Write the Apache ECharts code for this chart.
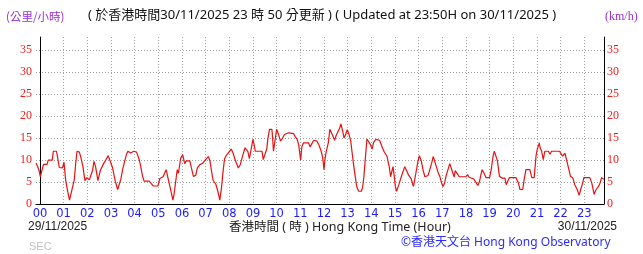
<!DOCTYPE html>
<html><head><meta charset="utf-8">
<script src="https://cdn.jsdelivr.net/npm/echarts@6/dist/echarts.min.js"></script>
<style>html,body{margin:0;padding:0;background:#fff;overflow:hidden}#c{width:643px;height:254px}</style>
</head><body><div id="c"></div>
<script>
// ---- data (minutes from 00:00 on 30/11; axis runs 23:50 29/11 -> 23:50 30/11) ----
const hourLabels = ['00','01','02','03','04','05','06','07','08','09','10','11','12','13','14','15','16','17','18','19','20','21','22','23'];
const yTickLabels = ['0','5','10','15','20','25','30','35'];
const minutes = [
-10,-6,-2,1,5,9,18,21,31,34,42,45,49,57,61,65,70,75,79,83,87,91,94,100,104,109,114,119,125,129,133,137,141,147,153,162,167,173,178,184,191,197,201,205,210,215,219,223,230,238,245,251,255,260,264,277,282,287,299,304,312,320,325,330,334,337,340,344,348,351,357,362,367,371,380,384,389,395,399,406,413,420,427,431,435,439,446,451,456,460,464,468,472,477,485,490,495,503,508,514,520,527,531,536,540,543,546,563,566,571,575,578,582,588,590,592,596,600,605,610,615,620,630,643,647,652,656,658,661,664,668,681,685,690,694,702,707,713,717,720,723,726,731,735,740,743,747,751,756,760,763,767,771,775,779,783,788,791,795,799,803,808,815,818,821,825,829,833,838,842,846,852,856,861,866,872,880,886,889,893,895,898,901,904,907,910,914,919,925,928,931,935,941,945,947,950,953,958,962,967,971,976,984,989,993,997,1000,1004,1009,1014,1018,1022,1026,1030,1035,1039,1043,1047,1050,1053,1058,1063,1080,1084,1088,1100,1106,1110,1114,1118,1121,1126,1131,1140,1144,1149,1152,1156,1160,1165,1171,1179,1182,1190,1207,1213,1217,1224,1227,1232,1242,1247,1253,1258,1261,1266,1268,1272,1276,1280,1289,1293,1297,1310,1317,1325,1331,1335,1340,1345,1351,1356,1362,1367,1371,1376,1379,1394,1399,1405,1410,1416,1420,1424,1430
];
const speeds = [
9.3,8.6,7.5,6.2,6.5,9,9,10,10,12,12,10.5,8.3,8.2,9.5,5.6,3,0.9,2.4,2,5.5,9.5,12,11.8,10.5,8.5,5.3,6,5.5,5.4,7.5,9.7,8.5,5.3,7.6,9.3,10,11,10.6,8.3,5.2,3.3,3.5,5.6,8,9.8,11.2,12,11.6,12,11.8,10.3,8.8,6.4,5.2,5.2,5.2,4.1,4.1,5.8,6.2,7.8,5.8,3.8,2.2,0.9,2.2,5,7.8,7,10.5,11.2,9.2,9.8,9.8,8.2,6.3,6.5,8.2,9,9.3,10.1,10.8,9.8,7.5,5.4,4.5,2.9,0.9,3.5,7.2,10.3,11,11.2,12.5,11.5,10,8.2,9,11,12.8,12,10.3,10.5,14.7,13.5,12,12,10.1,10.5,12.5,15,17,17,15,12,14.5,17,15.8,14.3,15,15.8,16.2,16,15.4,14.7,13.5,12,10,13,13.9,13.9,13,13.3,14.5,14.3,13.5,12,10.5,7.8,10.5,12,13.9,17,17,15.4,14.5,15.6,16,17.3,18.2,16.8,15,15.8,16.9,16,14.3,12,9,6.5,4,2.9,2.9,3.8,6,10.5,14.8,14.5,13.5,12.5,14,14.7,15,14.5,13.3,12,10.8,8.2,6.2,6.5,8.5,6.5,4,2.9,3.2,4.4,5.6,7,8.5,8.3,7.3,6.5,5.8,4.5,4,5.5,7,9.6,11,9.7,7.8,6.2,6.5,8,9.3,10.8,10.5,8.8,7.3,6.2,4.8,4,4.8,6.5,8,9.2,8.8,7,6.1,7.6,7.6,6.2,6.2,6.7,6.1,5.7,4.8,4.2,5,6.7,7.8,7,6,6,7.8,11,12,10.9,9.7,6.3,5.9,5.9,4.4,6,6,4.8,3.3,3.3,5.2,7.8,7.8,6,6,11.2,12.5,13.9,12.8,12,10.1,12,12,11.3,12,12,12,10.9,11.6,10.1,8.2,6.3,5.9,4.4,3.3,2,3.3,4.8,6,6,4.8,2.2,3.3,4,4.8,6,5.6
];

// decoration slots every 10 minutes across the axis
const slots = [];
for (let m = -10; m <= 1430; m += 10) slots.push(String(m));
const isHour = (i, v) => { const m = +v; return m >= 0 && m % 60 === 0; };

const chart = echarts.init(document.getElementById('c'), null, {renderer: 'canvas'});
const gridColor = '#a0a0a0';
const redLbl = '#ee2020';
chart.setOption({
  animation: false,
  backgroundColor: '#ffffff',
  grid: {left: 36, right: 39, top: 37, bottom: 50, containLabel: false},
  xAxis: [
    {
      type: 'category', data: slots, boundaryGap: false, position: 'bottom',
      axisLine: {show: true, lineStyle: {color: '#000', width: 1}},
      axisTick: {show: false},
      axisLabel: {interval: isHour, formatter: v => hourLabels[(+v) / 60] || '', color: '#1c1cff',
        fontFamily: 'DejaVu Sans', fontSize: 11.5, margin: 4},
      splitLine: {show: true, interval: isHour, lineStyle: {color: gridColor, width: 1, type: [1, 2]}}
    },
    {
      type: 'value', min: -10, max: 1430, show: false, position: 'top'
    }
  ],
  yAxis: [
    {
      type: 'value', min: 0, max: 38, interval: 5, position: 'left',
      axisLine: {show: true, lineStyle: {color: '#000', width: 1}},
      axisTick: {show: false},
      axisLabel: {color: redLbl, fontFamily: 'Liberation Serif', fontSize: 12, margin: 4, showMaxLabel: false,
        formatter: v => (v % 5 === 0 ? yTickLabels[v / 5] : '')},
      splitLine: {show: true, showMaxLine: false, showMinLine: false, lineStyle: {color: gridColor, width: 1, type: [1, 2]}}
    },
    {
      type: 'value', min: 0, max: 38, interval: 5, position: 'right',
      axisLine: {show: true, lineStyle: {color: '#000', width: 1}},
      axisTick: {show: false},
      axisLabel: {color: redLbl, fontFamily: 'Liberation Serif', fontSize: 12, margin: 3, showMaxLabel: false,
        formatter: v => (v % 5 === 0 ? yTickLabels[v / 5] : '')},
      splitLine: {show: false}
    }
  ],
  series: [{
    type: 'line', xAxisIndex: 1, yAxisIndex: 0,
    data: minutes.map((m, i) => [m, speeds[i]]),
    showSymbol: false, symbol: 'none',
    lineStyle: {color: '#e81010', width: 1.2},
    silent: true
  }],
  graphic: [
    {type: 'text', left: 6, top: 11, style: {text: '(公里/小時)', fill: '#9b30d0', font: '11.5px "Noto Sans CJK TC"'}},
    {type: 'text', left: 88, top: 9, style: {text: '( 於香港時間30/11/2025 23 時 50 分更新 ) ( Updated at 23:50H on 30/11/2025 )', fill: '#111', font: '13px "Noto Sans", "Noto Sans CJK TC"'}},
    {type: 'text', left: 605, top: 11, style: {text: '(km/h)', fill: '#9b30d0', font: '12px "Liberation Serif"'}},
    {type: 'text', left: 28, top: 221, style: {text: '29/11/2025', fill: '#222', font: '12px "Liberation Sans"'}},
    {type: 'text', left: 229, top: 221, style: {text: '香港時間 ( 時 ) Hong Kong Time (Hour)', fill: '#222', font: '12.5px "Noto Sans", "Noto Sans CJK TC"'}},
    {type: 'text', right: 26, top: 221, style: {text: '30/11/2025', fill: '#222', font: '12px "Liberation Sans"'}},
    {type: 'text', left: 29, top: 241, style: {text: 'SEC', fill: '#c0c0c0', font: '11px "Liberation Sans"'}},
    {type: 'text', left: 401, top: 237, style: {text: '©香港天文台 Hong Kong Observatory', fill: '#2b2bff', font: '12px "Noto Sans", "Noto Sans CJK TC"'}}
  ]
});
</script>
</body></html>
